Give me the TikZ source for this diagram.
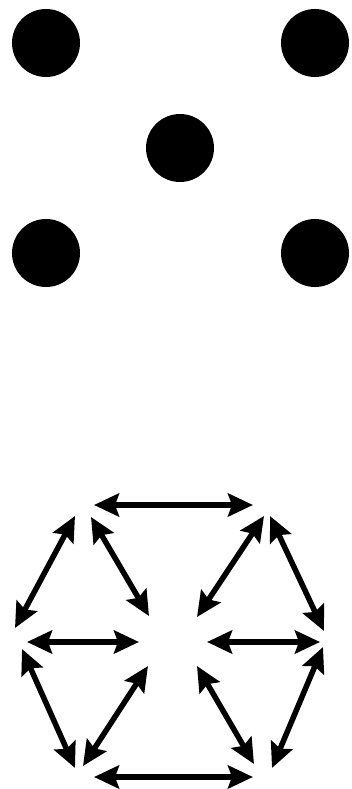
\documentclass[tikz,border=0pt]{standalone}
\usetikzlibrary{arrows.meta}
\begin{document}
\begin{tikzpicture}[x=1pt,y=-1pt,
  dot/.style={circle,fill=black,inner sep=0pt,minimum size=68pt},
  tipshape/.tip={Stealth[length=25pt,width=23pt,inset=4pt]},
  link/.style={line width=5.5pt,tipshape-tipshape}]
\useasboundingbox (0,0) rectangle (352,789);
% dots
\node[dot] (d1) at (46,43) {};
\node[dot] (d2) at (315,43) {};
\node[dot] (d3) at (180,148) {};
\node[dot] (d4) at (46,253) {};
\node[dot] (d5) at (315,253) {};
% arrow end points
\coordinate (t1) at (94,505);  \coordinate (t2) at (253,505);
\coordinate (a1) at (75,516);  \coordinate (a2) at (15,628);
\coordinate (b1) at (91,517);  \coordinate (b2) at (149,616);
\coordinate (c1) at (264,516); \coordinate (c2) at (197,617);
\coordinate (e1) at (270,516); \coordinate (e2) at (324,631);
\coordinate (l1) at (27,642);  \coordinate (l2) at (139,642);
\coordinate (r1) at (207,642); \coordinate (r2) at (320,642);
\coordinate (f1) at (22,649);  \coordinate (f2) at (75,768);
\coordinate (g1) at (148,666); \coordinate (g2) at (83,766);
\coordinate (h1) at (197,666); \coordinate (h2) at (254,764);
\coordinate (k1) at (323,647); \coordinate (k2) at (272,768);
\coordinate (u1) at (94,777);  \coordinate (u2) at (253,777);
% arrows
\draw[link] (t1) -- (t2);
\draw[link] (a1) -- (a2);
\draw[link] (b1) -- (b2);
\draw[link] (c1) -- (c2);
\draw[link] (e1) -- (e2);
\draw[link] (l1) -- (l2);
\draw[link] (r1) -- (r2);
\draw[link] (f1) -- (f2);
\draw[link] (g1) -- (g2);
\draw[link] (h1) -- (h2);
\draw[link] (k1) -- (k2);
\draw[link] (u1) -- (u2);
\end{tikzpicture}
\end{document}
